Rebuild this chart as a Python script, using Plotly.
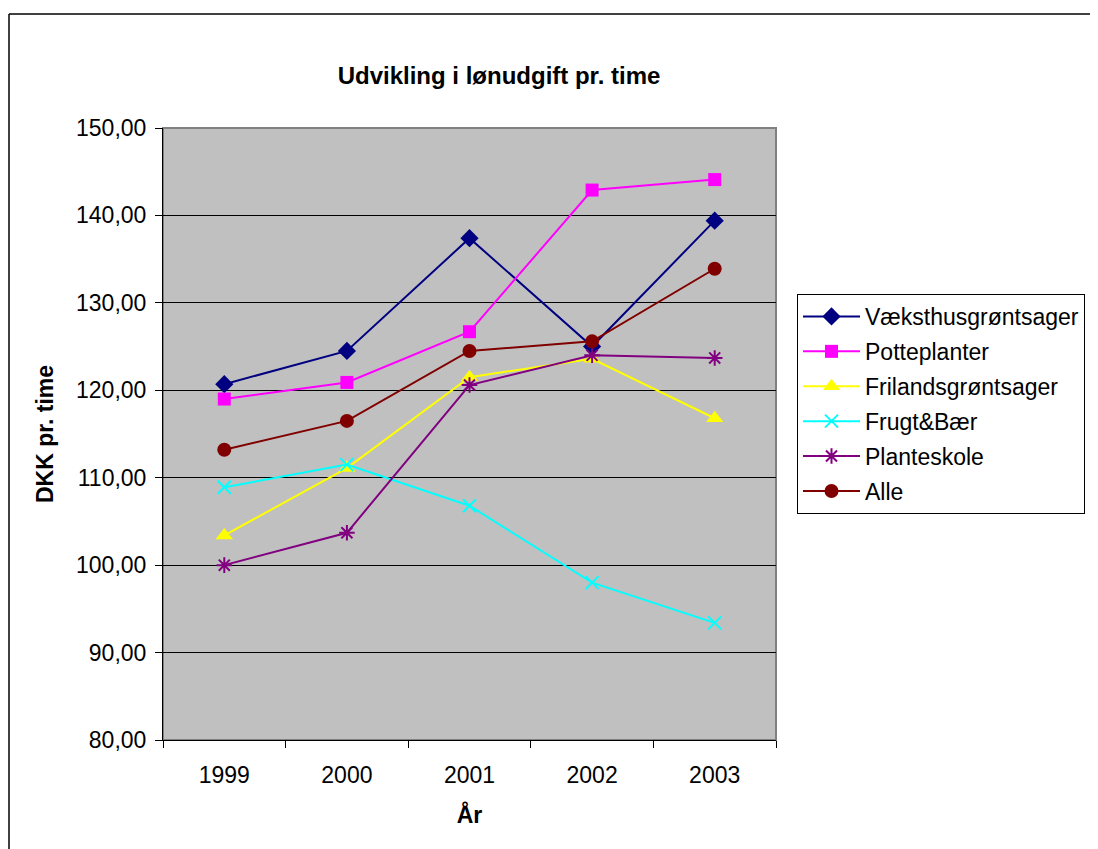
import plotly.graph_objects as go

years = ["1999", "2000", "2001", "2002", "2003"]
vaeksthus = [120.7, 124.5, 137.4, 125.0, 139.4]
potteplanter = [119.0, 120.9, 126.7, 142.9, 144.1]
friland = [103.4, 111.1, 121.5, 123.6, 116.8]
frugt = [108.9, 111.5, 106.8, 98.0, 93.4]
planteskole = [100.0, 103.7, 120.6, 124.0, 123.7]
alle = [113.2, 116.5, 124.5, 125.6, 133.9]

series = [
    ("Væksthusgrøntsager", vaeksthus, "#000080", "diamond", 14, False),
    ("Potteplanter", potteplanter, "#FF00FF", "square", 13, False),
    ("Frilandsgrøntsager", friland, "#FFFF00", "triangle-up", 15, False),
    ("Frugt&Bær", frugt, "#00FFFF", "x-thin-open", 13, True),
    ("Planteskole", planteskole, "#800080", "asterisk-open", 13, True),
    ("Alle", alle, "#800000", "circle", 14, False),
]

FONT = "Liberation Sans, Arial, sans-serif"

fig = go.Figure()
for i, (name, vals, col, sym, size, open_) in enumerate(series):
    marker = dict(symbol=sym, size=size, color=col)
    if open_:
        marker["line"] = dict(color=col, width=2)
    else:
        marker["line"] = dict(color=col, width=0)
    fig.add_trace(go.Scatter(
        x=years, y=vals, name=name, mode="lines+markers",
        line=dict(color=col, width=2), marker=marker,
        legendgroup=f"g{i}",
    ))

# page offset of 8px (body margin) compensated
OFF = 8
L, R, T, B = 163 - OFF, 776 - OFF, 128 - OFF, 740 - OFF
W, H = 1098 - OFF, 849 - OFF

def px(xp):
    return (xp - OFF - L) / (R - L)

def py(yp):
    return (B - (yp - OFF)) / (B - T)

fig.update_layout(
    width=W, height=H,
    margin=dict(l=L, r=W - R, t=T, b=H - B, pad=0),
    paper_bgcolor="white",
    plot_bgcolor="#C0C0C0",
    separators=",.",
    font=dict(family=FONT, size=23, color="black"),
    title=dict(text="<b>Udvikling i lønudgift pr. time</b>", x=(499 - OFF) / W, xref="container",
               xanchor="center", y=1 - (76 - OFF) / H, yref="container", yanchor="middle",
               font=dict(size=24, family=FONT)),
    showlegend=True,
    legend=dict(x=px(797), y=py(294), xanchor="left", yanchor="top",
                bordercolor="black", borderwidth=1, bgcolor="white",
                font=dict(size=23, family=FONT), tracegroupgap=2,
                itemwidth=57),
    xaxis=dict(type="category", range=[-0.5, 4.5], tickson="boundaries",
               ticks="outside", ticklen=7, tickcolor="black", tickwidth=1,
               ticklabelstandoff=14,
               showgrid=False, showline=True, linecolor="black", linewidth=1,
               title=dict(text="<b>År</b>", font=dict(size=23, family=FONT), standoff=20),
               tickfont=dict(size=23, family=FONT), zeroline=False),
    yaxis=dict(range=[80, 150], tickmode="linear", tick0=80, dtick=10, tickformat=".2f",
               ticks="outside", ticklen=7, tickcolor="black", tickwidth=1,
               ticklabelstandoff=4,
               showgrid=True, gridcolor="black", gridwidth=1,
               showline=True, linecolor="black", linewidth=1,
               title=dict(text="<b>DKK pr. time</b>", font=dict(size=23, family=FONT), standoff=15),
               tickfont=dict(size=23, family=FONT), zeroline=False),
    shapes=[
        dict(type="rect", xref="paper", yref="paper", x0=0, x1=1, y0=0, y1=1,
             line=dict(color="#808080", width=2), fillcolor="rgba(0,0,0,0)", layer="below"),
        dict(type="line", xref="paper", yref="paper", x0=px(9), x1=px(1200), y0=py(14), y1=py(14),
             line=dict(color="black", width=1.5)),
        dict(type="line", xref="paper", yref="paper", x0=px(9), x1=px(9), y0=py(14), y1=py(900),
             line=dict(color="black", width=1.5)),
    ],
)

fig.write_html("out.html")
